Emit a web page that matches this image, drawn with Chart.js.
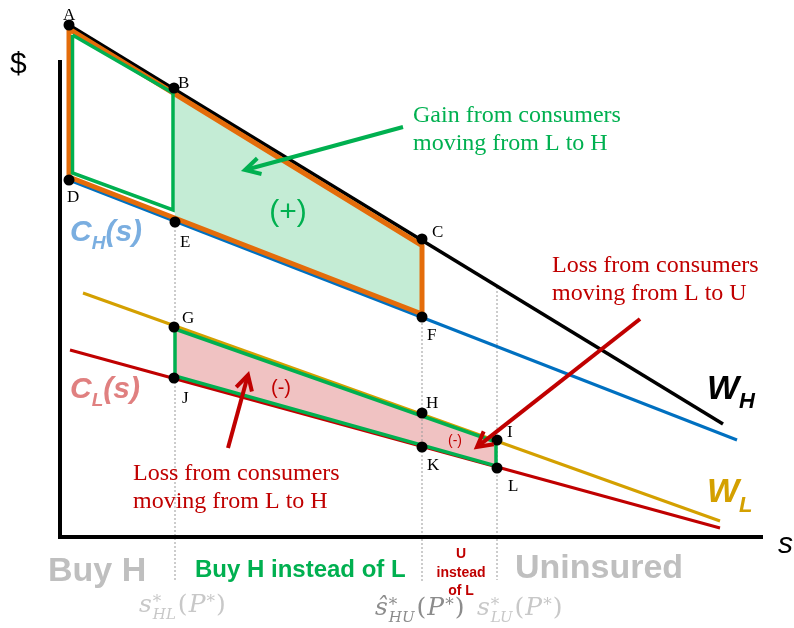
<!DOCTYPE html>
<html><head><meta charset="utf-8">
<script src="https://cdn.jsdelivr.net/npm/chart.js@4.4.0/dist/chart.umd.min.js"></script>
<style>html,body{margin:0;padding:0;background:#fff;overflow:hidden}</style>
</head><body>
<canvas id="c" width="794" height="628"></canvas>
<script>
// ---- data (s on x, $ on y; arbitrary diagram units) ----
const W_H = [[9,512],[663,113]];
const C_H = [[9,357],[677,97]];
const W_L = [[23,244],[660,16]];
const C_L = [[10,187],[660,9]];
const axisLine = [[0,477],[0,0],[703,0]];
const cutoffS = [115, 362, 437];
const cutoffTop = [315, 298, 250];
const cutoffBottom = [-43, -46, -43];
const pointNames = ['A','B','C','D','E','F','G','H','I','J','K','L'];
const pointS = [9,114,362,9,115,362,114,362,437,114,362,437];
const pointV = [512,449,298,357,315,220,210,124,97,159,90,69];
const gainArea = [[114,449],[362,298],[362,220],[115,315]];
const lossArea = [[115,208],[436,95],[436,71],[115,161]];
const orangeOutline = [[9,508],[362,291.5],[362,223],[9,360]];
const greenOutlineH = [[12.5,502],[113,444],[113,327],[12.5,364]];
const arrowTail = [[343,410],[580,218],[168,89]];
const arrowTip = [[185,367],[417,90],[188,162]];

const xy = a => a.map(p => ({x:p[0], y:p[1]}));
const closed = a => xy(a.concat([a[0]]));

const datasets = [
  {data: xy(gainArea), fill:'shape', backgroundColor:'#c4ecd5', borderColor:'transparent', borderWidth:0, order:20},
  {data: xy(lossArea), fill:'shape', backgroundColor:'#f0c2c2', borderColor:'transparent', borderWidth:0, order:19},
];
cutoffS.forEach((s,i) => datasets.push({data:[{x:s,y:cutoffTop[i]},{x:s,y:cutoffBottom[i]}], borderColor:'#9a9a9a', borderWidth:1, borderDash:[2,2], order:15}));
[[W_H,'#000000',3.5],[C_H,'#0070c0',3],[W_L,'#d4a000',3],[C_L,'#c00000',3]].forEach(([l,c,w]) =>
  datasets.push({data: xy(l), borderColor:c, borderWidth:w, order:12}));
datasets.push({data: closed(orangeOutline), borderColor:'#e46c0a', borderWidth:5, borderJoinStyle:'round', order:10});
datasets.push({data: closed(greenOutlineH), borderColor:'#00b050', borderWidth:3.5, order:9});
datasets.push({data: closed(lossArea), borderColor:'#00b050', borderWidth:3.5, order:9});
datasets.push({data: xy(axisLine), borderColor:'#000000', borderWidth:4, borderJoinStyle:'miter', order:8});
datasets.push({data: pointS.map((s,i)=>({x:s,y:pointV[i]})), showLine:false, pointRadius:5.5, pointBackgroundColor:'#000', pointBorderWidth:0, order:1});

function arrow(ctx,x1,y1,x2,y2,color,w,head){
  ctx.save(); ctx.strokeStyle=color; ctx.lineWidth=w; ctx.lineCap='butt'; ctx.lineJoin='miter';
  const a=Math.atan2(y2-y1,x2-x1);
  ctx.beginPath(); ctx.moveTo(x1,y1); ctx.lineTo(x2-3*Math.cos(a),y2-3*Math.sin(a)); ctx.stroke();
  ctx.beginPath();
  ctx.moveTo(x2-head*Math.cos(a-0.5), y2-head*Math.sin(a-0.5));
  ctx.lineTo(x2,y2);
  ctx.lineTo(x2-head*Math.cos(a+0.5), y2-head*Math.sin(a+0.5));
  ctx.stroke(); ctx.restore();
}
function runs(ctx,x,y,list,color){
  ctx.fillStyle=color; ctx.textAlign='left'; ctx.textBaseline='alphabetic';
  for(const [t,f,dy] of list){ ctx.font=f; ctx.fillText(t,x,y+(dy||0)); x+=ctx.measureText(t).width; }
}
function mathLabel(ctx,x,y,base,sub,color){
  const F='"DejaVu Serif"', g=1;
  const big='italic 25px '+F, small='italic 15px '+F, up='17px '+F, norm='25px '+F;
  ctx.fillStyle=color; ctx.textAlign='left'; ctx.textBaseline='alphabetic';
  ctx.font=big; ctx.fillText(base,x,y); x+=ctx.measureText(base).width+1;
  ctx.font=up; ctx.fillText('*',x,y-5); const w1=ctx.measureText('*').width;
  ctx.font=small; ctx.fillText(sub,x,y+7); const w2=ctx.measureText(sub).width;
  x+=Math.max(w1,w2)+g+1;
  ctx.font=norm; ctx.fillText('(',x,y); x+=ctx.measureText('(').width+g;
  ctx.font=big; ctx.fillText('P',x,y); x+=ctx.measureText('P').width+1;
  ctx.font=up; ctx.fillText('*',x,y-5); x+=ctx.measureText('*').width+g;
  ctx.font=norm; ctx.fillText(')',x,y);
}

const labelOffsets = {A:[-6,-5],B:[4,0],C:[10,-2],D:[-2,22],E:[5,25],F:[5,23],G:[8,-4],H:[4,-5],I:[10,-3],J:[8,25],K:[5,23],L:[11,23]};

const annot = {
  id:'annot',
  afterDatasetsDraw(chart){
    const {ctx, scales:{x,y}} = chart;
    const P = (s,v)=>[x.getPixelForValue(s), y.getPixelForValue(v)];
    // arrows
    const cols=['#00b050','#c00000','#c00000'];
    arrowTail.forEach((t,i)=>{ const a=P(t[0],t[1]), b=P(arrowTip[i][0],arrowTip[i][1]); arrow(ctx,a[0],a[1],b[0],b[1],cols[i],4,17); });
    // point labels
    ctx.save();
    ctx.font='17px "Liberation Serif"'; ctx.fillStyle='#000'; ctx.textAlign='left'; ctx.textBaseline='alphabetic';
    pointNames.forEach((n,i)=>{ const p=P(pointS[i],pointV[i]); const o=labelOffsets[n]; ctx.fillText(n,p[0]+o[0],p[1]+o[1]); });
    // axis labels
    ctx.font='30px "Liberation Sans"'; ctx.fillText('$',10,73);
    ctx.font='italic 30px "Liberation Sans"'; ctx.fillText('s',778,553);
    // curve labels
    const BI=n=>'italic bold '+n+'px "Liberation Sans"';
    runs(ctx,70,241,[['C',BI(30)],['H',BI(19),8],['(s)',BI(30)]],'#7aaee0');
    runs(ctx,70,398,[['C',BI(30)],['L',BI(19),8],['(s)',BI(30)]],'#e08080');
    runs(ctx,707,399,[['W',BI(34)],['H',BI(22),9]],'#000000');
    runs(ctx,707,502,[['W',BI(34)],['L',BI(22),10]],'#d4a000');
    // area signs
    ctx.textAlign='center'; ctx.textBaseline='middle';
    ctx.font='30px "Liberation Sans"'; ctx.fillStyle='#00b050'; ctx.fillText('(+)',288,213);
    ctx.font='20px "Liberation Sans"'; ctx.fillStyle='#c00000'; ctx.fillText('(-)',281,388);
    ctx.font='14px "Liberation Sans"'; ctx.fillText('(-)',455,441);
    // annotations
    ctx.textAlign='left'; ctx.textBaseline='alphabetic';
    ctx.font='24px "Liberation Serif"';
    ctx.fillStyle='#00b050'; ctx.fillText('Gain from consumers',413,122); ctx.fillText('moving from L to H',413,150);
    ctx.fillStyle='#c00000'; ctx.fillText('Loss from consumers',552,272); ctx.fillText('moving from L to U',552,300);
    ctx.fillText('Loss from consumers',133,480); ctx.fillText('moving from L to H',133,508);
    // regions under axis
    ctx.font='bold 34px "Liberation Sans"'; ctx.fillStyle='#bfbfbf';
    ctx.fillText('Buy H',48,581); ctx.fillText('Uninsured',515,578);
    ctx.font='bold 24px "Liberation Sans"'; ctx.fillStyle='#00b050'; ctx.fillText('Buy H instead of L',195,577);
    ctx.textAlign='center'; ctx.font='bold 14px "Liberation Sans"'; ctx.fillStyle='#c00000';
    ctx.fillText('U',461,558); ctx.fillText('instead',461,577); ctx.fillText('of L',461,595);
    // cutoff labels
    mathLabel(ctx,139,612,'s','HL','#c8c8c8');
    mathLabel(ctx,375,615,'\u015D','HU','#8c8c8c');
    mathLabel(ctx,477,615,'s','LU','#c8c8c8');
    ctx.restore();
  }
};

new Chart(document.getElementById('c'), {
  type:'scatter',
  data:{datasets: datasets.map(d=>Object.assign({showLine:true, pointRadius:0, tension:0, fill:false}, d))},
  options:{
    responsive:false, animation:false, devicePixelRatio:1,
    layout:{padding:0, autoPadding:false},
    plugins:{legend:{display:false}, tooltip:{enabled:false}},
    scales:{
      x:{type:'linear', min:-60, max:734, display:false},
      y:{type:'linear', min:-91, max:537, display:false}
    }
  },
  plugins:[annot]
});
</script>
</body></html>
